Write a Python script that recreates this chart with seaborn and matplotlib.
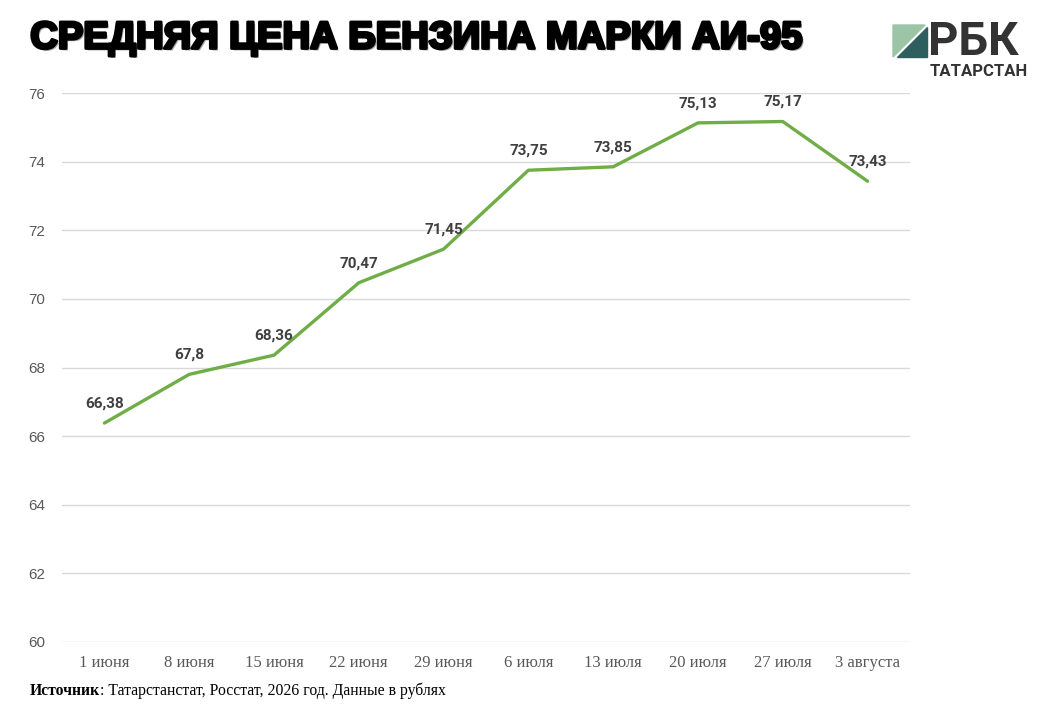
import matplotlib
matplotlib.use("Agg")
import matplotlib.pyplot as plt
import matplotlib.patheffects as pe
from matplotlib.patches import Polygon
import seaborn as sns
import pandas as pd

# Данные
dates = ["1 июня", "8 июня", "15 июня", "22 июня", "29 июня",
         "6 июля", "13 июля", "20 июля", "27 июля", "3 августа"]
prices = [66.38, 67.8, 68.36, 70.47, 71.45, 73.75, 73.85, 75.13, 75.17, 73.43]
labels = ["66,38", "67,8", "68,36", "70,47", "71,45",
          "73,75", "73,85", "75,13", "75,17", "73,43"]
yticks = [60, 62, 64, 66, 68, 70, 72, 74, 76]

df = pd.DataFrame({"pos": range(len(dates)), "price": prices})

sns.set_theme(style="white")
plt.rcParams["font.family"] = ["Liberation Sans", "DejaVu Sans"]

fig = plt.figure(figsize=(10.44, 7.24), dpi=100)
ax = fig.add_axes([0.0594, 0.1133, 0.8122, 0.7582])

sns.lineplot(data=df, x="pos", y="price", ax=ax, color="#70AD47", linewidth=2.4)

ax.set_xlim(-0.5, len(dates) - 0.5)
ax.set_ylim(60, 76)
ax.set_yticks(yticks)
ax.set_yticklabels([str(v) for v in yticks], color="#595959", fontsize=11)
ax.set_xticks(range(len(dates)))
ax.set_xticklabels(dates, color="#595959", fontsize=12, family="Liberation Serif")
ax.tick_params(axis="both", length=0)
ax.tick_params(axis="y", pad=12)
ax.tick_params(axis="x", pad=9.5)
ax.set_xlabel("")
ax.set_ylabel("")
ax.grid(axis="y", color="#D9D9D9", linewidth=1)
ax.set_axisbelow(True)
for s in ax.spines.values():
    s.set_visible(False)

for i, (v, t) in enumerate(zip(prices, labels)):
    ax.annotate(t, (i, v), xytext=(0, 9), textcoords="offset points",
                ha="center", va="bottom", fontsize=11, fontweight="bold",
                color="#404040", family=["Roboto", "DejaVu Sans"])

# Заголовок
fig.text(0.029, 0.947, "СРЕДНЯЯ ЦЕНА БЕНЗИНА МАРКИ АИ-95", fontsize=27.5,
         fontweight="bold", family=["Liberation Sans", "DejaVu Sans"], color="black",
         va="center", ha="left",
         path_effects=[pe.withStroke(linewidth=2.2, foreground="black"),
                       pe.SimplePatchShadow(offset=(1.5, -1.5), alpha=0.35),
                       pe.Normal()])

# Логотип
def fx(px):
    return px / 1044

def fy(py):
    return 1 - py / 724

fig.patches.append(Polygon([(fx(893), fy(25)), (fx(925), fy(25)), (fx(893), fy(57))],
                           closed=True, transform=fig.transFigure, color="#9CC5A8"))
fig.patches.append(Polygon([(fx(927), fy(27)), (fx(927), fy(57)), (fx(897), fy(57))],
                           closed=True, transform=fig.transFigure, color="#2E5E5E"))
fig.text(fx(928), fy(42), "РБК", fontsize=34, fontweight="bold", color="#333333",
         va="center", ha="left", family=["Roboto", "DejaVu Sans"])
fig.text(fx(1028), fy(71), "ТАТАРСТАН", fontsize=12, fontweight="bold", color="#333333",
         va="center", ha="right", family=["Roboto", "DejaVu Sans"])

# Источник
src = fig.text(fx(30), fy(695), "Источник", fontsize=11.3, fontweight="bold",
               family="Liberation Serif", color="black", va="baseline", ha="left")
ax.annotate(": Татарстанстат, Росстат, 2026 год. Данные в рублях",
            xy=(1, 0), xycoords=src, fontsize=11.3, family="Liberation Serif",
            color="black", va="bottom", ha="left", annotation_clip=False)

fig.savefig("out.png", dpi=100)
